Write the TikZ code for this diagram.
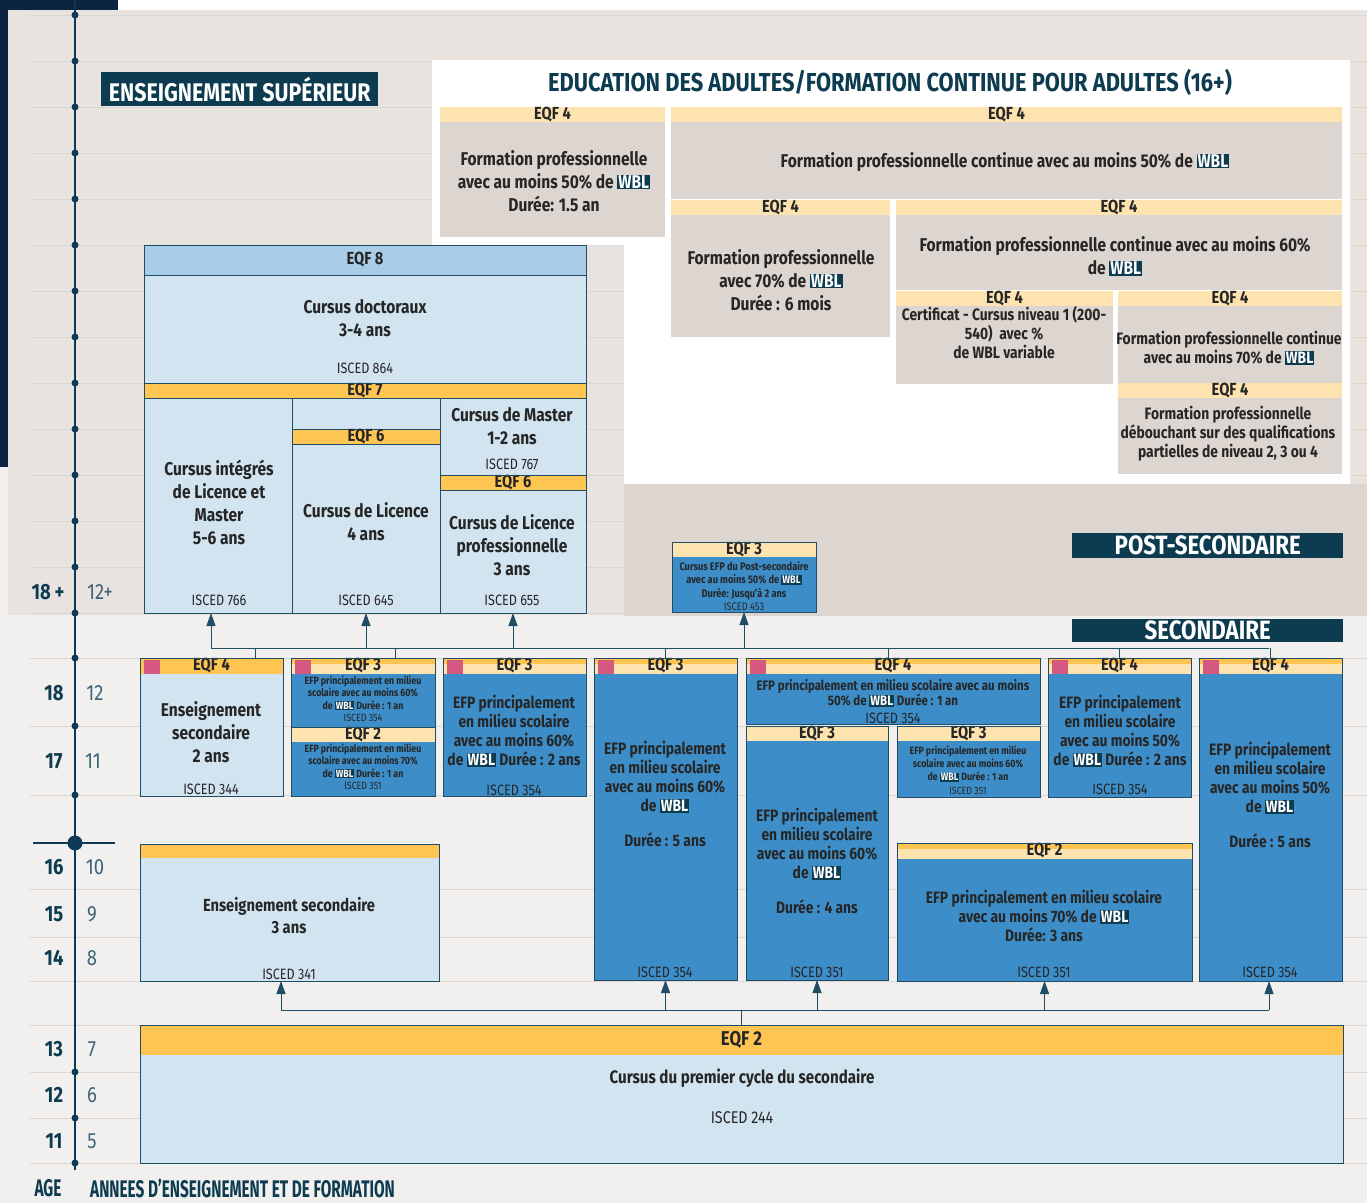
\documentclass[tikz,border=0pt]{standalone}
\usepackage{fontspec}
\setmainfont[FakeStretch=0.84]{Fira Sans}
\newfontfamily\narrowfont[FakeStretch=0.64]{Fira Sans}
\usepackage{xcolor}
\usetikzlibrary{arrows.meta, positioning}
\definecolor{EuNavy}{HTML}{0D3B4F}
\definecolor{EuAxis}{HTML}{0E3A56}
\definecolor{EuDeep}{HTML}{0B2440}
\definecolor{EuEdge}{HTML}{1F4D65}
\definecolor{EuOrange}{HTML}{FFC552}
\definecolor{EuCream}{HTML}{FDE3B0}
\definecolor{EuPale}{HTML}{D2E4F0}
\definecolor{EuSky}{HTML}{A9CDE6}
\definecolor{EuBlue}{HTML}{3C8DC8}
\definecolor{EuPink}{HTML}{D4587F}
\definecolor{EuSand}{HTML}{DDD5CF}
\definecolor{EuBeige}{HTML}{E8E3DF}
\definecolor{EuPaper}{HTML}{F2F0EE}
\definecolor{EuRule}{HTML}{DCD6D1}
\definecolor{EuInk}{HTML}{262626}
\definecolor{EuYear}{HTML}{3D6478}
\newcommand{\wbl}{{\setlength{\fboxsep}{1pt}\colorbox{EuNavy}{\textcolor{white}{WBL}}}}

\begin{document}
\begin{tikzpicture}[x=1pt, y=-1pt,
    box/.style={anchor=north west, inner sep=0pt, outer sep=0pt, draw=EuEdge, line width=0.8pt},
    pbox/.style={box, fill=EuPale},
    bbox/.style={box, fill=EuBlue},
    abox/.style={anchor=north west, inner sep=0pt, outer sep=0pt, fill=EuSand},
    hdr/.style={anchor=north west, inner sep=0pt, outer sep=0pt, minimum height=15pt, text=EuInk, font=\fontsize{17.5}{17.5}\selectfont\bfseries},
    hdro/.style={hdr, fill=EuOrange},
    hdrc/.style={hdr, fill=EuCream},
    hdrd/.style={hdr, fill=EuCream, path picture={\fill[EuOrange] (path picture bounding box.north west) rectangle ([yshift=-6pt]path picture bounding box.north east);}},
    hdrp/.style={hdr, fill=EuCream, path picture={\fill[EuOrange] (path picture bounding box.north west) rectangle ([yshift=-6pt]path picture bounding box.north east);
        \fill[EuPink] ([xshift=4pt,yshift=-2pt]path picture bounding box.north west) rectangle ([xshift=20pt,yshift=-16pt]path picture bounding box.north west);}},
    hdrop/.style={hdr, fill=EuOrange, path picture={\fill[EuPink] ([xshift=4pt,yshift=-2pt]path picture bounding box.north west) rectangle ([xshift=20pt,yshift=-16pt]path picture bounding box.north west);}},
    txt/.style={align=center, inner sep=0pt, text=EuInk, font=\fontsize{18.5}{23}\selectfont\bfseries},
    mtxt/.style={txt, font=\fontsize{16.5}{19}\selectfont\bfseries},
    stxt/.style={txt, font=\fontsize{10.5}{12.5}\selectfont\bfseries},
    isc/.style={inner sep=0pt, text=EuInk, font=\fontsize{15}{15}\selectfont},
    tag/.style={anchor=north west, inner sep=0pt, fill=EuNavy, text=white, font=\fontsize{26.5}{26.5}\selectfont\bfseries},
    age/.style={inner sep=0pt, text=EuNavy, font=\fontsize{22}{22}\selectfont\bfseries},
    year/.style={inner sep=0pt, text=EuYear, font=\fontsize{22}{22}\selectfont},
    bus/.style={draw=EuEdge, line width=1pt},
    arr/.style={bus, -{Triangle[width=9pt,length=13pt]}}]

    % background
    \useasboundingbox (0,0) rectangle (1367,1203);
    \fill[EuPaper] (0,0) rectangle (1367,1203);
    \fill[white] (118,0) rectangle (1367,10);
    \fill[EuBeige] (8,10) rectangle (1367,615);
    \fill[EuDeep] (0,0) rectangle (118,10);
    \fill[EuDeep] (0,0) rectangle (8,467);
    \foreach \y in {15,61,...,613,658,726,795,889,937,981,1025,1072,1118,1163}
        \draw[EuRule, line width=1pt] (30,\y) -- (1367,\y);
    \fill[white] (432,60) -- (1350,60) -- (1350,484) -- (624,484) -- (624,245) -- (432,245) -- cycle;
    \fill[EuSand] (624,484) rectangle (1367,616);

    % axis
    \draw[EuAxis, line width=1.6pt] (75,0) -- (75,1170);
    \foreach \y in {15,61,...,613,658,726,795,1072,1118,1163}
        \fill[EuAxis] (75,\y) circle (3.5pt);
    \draw[EuAxis, line width=2.5pt] (33,843) -- (115,843);
    \fill[EuAxis] (75,843) circle (7.5pt);

    \node[age] (g18p) at (48,592) {18\,+};
    \node[age] (g18) at (54,693) {18};
    \node[age] (g17) at (54,761) {17};
    \node[age] (g16) at (54,867) {16};
    \node[age] (g15) at (54,914) {15};
    \node[age] (g14) at (54,958) {14};
    \node[age] (g13) at (54,1049) {13};
    \node[age] (g12) at (54,1095) {12};
    \node[age] (g11) at (54,1141) {11};
    \node[year] (y12p) at (100,592) {12+};
    \node[year] (y12) at (95,693) {12};
    \node[year] (y11) at (93,761) {11};
    \node[year] (y10) at (95,867) {10};
    \node[year] (y9) at (92,914) {9};
    \node[year] (y8) at (92,958) {8};
    \node[year] (y7) at (92,1049) {7};
    \node[year] (y6) at (92,1095) {6};
    \node[year] (y5) at (92,1141) {5};
    \node[age, font=\fontsize{24}{24}\narrowfont\bfseries] (agelab) at (48,1188) {AGE};
    \node[age, anchor=west, font=\fontsize{24}{24}\narrowfont\bfseries] (yearlab) at (90,1188) {ANNEES D’ENSEIGNEMENT ET DE FORMATION};

    % titles
    \node[tag, minimum width=277pt, minimum height=34pt, font=\fontsize{25.5}{25.5}\selectfont\bfseries] (supt) at (101,72) {ENSEIGNEMENT SUPÉRIEUR};
    \node[inner sep=0pt, text=EuNavy, font=\fontsize{26}{26}\selectfont\bfseries] (adult) at (890,82)
        {EDUCATION DES ADULTES/FORMATION CONTINUE POUR ADULTES (16+)};
    \node[tag, minimum width=271pt, minimum height=25pt] (postt) at (1072,533) {POST-SECONDAIRE};
    \node[tag, minimum width=271pt, minimum height=23pt] (sect) at (1072,619) {SECONDAIRE};

    % adult education
    \node[abox, minimum width=225pt, minimum height=130pt] (a1) at (440,107) {};
    \node[hdrc, minimum width=225pt] (a1h) at (a1.north west) {EQF 4};
    \node[txt] (a1t) at (554,181) {Formation professionnelle\\avec au moins 50\% de \wbl\\Durée: 1.5 an};
    \node[abox, minimum width=671pt, minimum height=92pt] (a2) at (671,107) {};
    \node[hdrc, minimum width=671pt] (a2h) at (a2.north west) {EQF 4};
    \node[txt] (a2t) at (1005,162) {Formation professionnelle continue avec au moins 50\% de \wbl};
    \node[abox, minimum width=219pt, minimum height=137pt] (a3) at (671,200) {};
    \node[hdrc, minimum width=219pt] (a3h) at (a3.north west) {EQF 4};
    \node[txt] (a3t) at (781,280) {Formation professionnelle\\avec 70\% de \wbl\\Durée : 6 mois};
    \node[abox, minimum width=446pt, minimum height=90pt] (a4) at (896,200) {};
    \node[hdrc, minimum width=446pt] (a4h) at (a4.north west) {EQF 4};
    \node[txt] (a4t) at (1115,256) {Formation professionnelle continue avec au moins 60\%\\de \wbl};
    \node[abox, minimum width=217pt, minimum height=93pt] (a5) at (896,291) {};
    \node[hdrc, minimum width=217pt] (a5h) at (a5.north west) {EQF 4};
    \node[mtxt] (a5t) at (1004,333) {Certificat - Cursus niveau 1 (200-\\540)~ avec \%\\de WBL variable};
    \node[abox, minimum width=224pt, minimum height=92pt] (a6) at (1118,291) {};
    \node[hdrc, minimum width=224pt] (a6h) at (a6.north west) {EQF 4};
    \node[mtxt] (a6t) at (1229,348) {Formation professionnelle continue\\avec au moins 70\% de \wbl};
    \node[abox, minimum width=224pt, minimum height=91pt] (a7) at (1118,383) {};
    \node[hdrc, minimum width=224pt] (a7h) at (a7.north west) {EQF 4};
    \node[mtxt] (a7t) at (1228,434) {Formation professionnelle\\débouchant sur des qualifications\\partielles de niveau 2, 3 ou 4};

    % higher education
    \node[box, fill=EuSky, minimum width=442pt, minimum height=30pt, font=\fontsize{17.5}{17.5}\selectfont\bfseries, text=EuInk] (eqf8) at (144,245) {EQF 8};
    \node[pbox, minimum width=442pt, minimum height=108pt] (doc) at (144,275) {};
    \node[txt] (doct) at (365,318) {Cursus doctoraux\\3-4 ans};
    \node[isc] (doci) at (365,368) {ISCED 864};
    \node[hdro, draw=EuEdge, line width=0.8pt, minimum width=442pt] (eqf7) at (144,383) {EQF 7};
    \node[pbox, minimum width=148pt, minimum height=215pt] (col1) at (144,398) {};
    \node[txt] (col1t) at (219,502) {Cursus intégrés\\de Licence et\\Master\\5-6 ans};
    \node[isc] (col1i) at (219,600) {ISCED 766};
    \node[pbox, minimum width=148pt, minimum height=215pt] (col2) at (292,398) {};
    \node[hdro, draw=EuEdge, line width=0.8pt, minimum width=148pt] (eqf6a) at (292,429) {EQF 6};
    \node[txt] (col2t) at (366,522) {Cursus de Licence\\4 ans};
    \node[isc] (col2i) at (366,600) {ISCED 645};
    \node[pbox, minimum width=146pt, minimum height=77pt] (mst) at (440,398) {};
    \node[txt] (mstt) at (512,426) {Cursus de Master\\1-2 ans};
    \node[isc] (msti) at (512,464) {ISCED 767};
    \node[pbox, minimum width=146pt, minimum height=138pt] (lpro) at (440,475) {};
    \node[hdro, draw=EuEdge, line width=0.8pt, minimum width=146pt] (eqf6b) at (lpro.north west) {EQF 6};
    \node[txt] (lprot) at (512,545) {Cursus de Licence\\professionnelle\\3 ans};
    \node[isc] (lproi) at (512,600) {ISCED 655};

    % post-secondary
    \node[bbox, minimum width=144pt, minimum height=70pt] (post) at (672,542) {};
    \node[hdrc, minimum width=144pt] (posth) at (post.north west) {EQF 3};
    \node[stxt, font=\fontsize{11}{13.3}\selectfont\bfseries] (postt2) at (744,586)
        {Cursus EFP du Post-secondaire\\avec au moins 50\% de \wbl\\Durée: Jusqu'à 2 ans\\{\mdseries ISCED 453}};

    % upper secondary
    \node[pbox, minimum width=143pt, minimum height=138pt] (s1) at (140,658) {};
    \node[hdrop, minimum width=143pt, minimum height=16pt] (s1h) at (s1.north west) {EQF 4};
    \node[txt] (s1t) at (211,732) {Enseignement\\secondaire\\2 ans};
    \node[isc] (s1i) at (211,789) {ISCED 344};

    \node[bbox, minimum width=144pt, minimum height=69pt] (s2a) at (291,658) {};
    \node[hdrp, minimum width=144pt, minimum height=16pt] (s2ah) at (s2a.north west) {EQF 3};
    \node[stxt] (s2at) at (363,699) {EFP principalement en milieu\\scolaire avec au moins 60\%\\de \wbl{} Durée : 1 an\\{\mdseries ISCED 354}};
    \node[bbox, minimum width=144pt, minimum height=69pt] (s2b) at (291,727) {};
    \node[hdrc, minimum width=144pt] (s2bh) at (s2b.north west) {EQF 2};
    \node[stxt] (s2bt) at (363,767) {EFP principalement en milieu\\scolaire avec au moins 70\%\\de \wbl{} Durée : 1 an\\{\mdseries ISCED 351}};

    \node[bbox, minimum width=143pt, minimum height=138pt] (s3) at (443,658) {};
    \node[hdrp, minimum width=143pt, minimum height=16pt] (s3h) at (s3.north west) {EQF 3};
    \node[mtxt] (s3t) at (514,731) {EFP principalement\\en milieu scolaire\\avec au moins 60\%\\de \wbl{} Durée : 2 ans};
    \node[isc] (s3i) at (514,790) {ISCED 354};

    \node[bbox, minimum width=143pt, minimum height=322pt] (s4) at (594,658) {};
    \node[hdrp, minimum width=143pt, minimum height=16pt] (s4h) at (s4.north west) {EQF 3};
    \node[mtxt] (s4t) at (665,777) {EFP principalement\\en milieu scolaire\\avec au moins 60\%\\de \wbl};
    \node[mtxt] (s4d) at (665,840) {Durée : 5 ans};
    \node[isc] (s4i) at (665,972) {ISCED 354};

    \node[bbox, minimum width=294pt, minimum height=66pt] (s5) at (746,658) {};
    \node[hdrp, minimum width=294pt, minimum height=16pt] (s5h) at (s5.north west) {EQF 4};
    \node[txt, font=\fontsize{13.7}{14}\selectfont\bfseries] (s5t) at (893,693) {EFP principalement en milieu scolaire avec au moins\\50\% de \wbl{} Durée : 1 an};
    \node[isc] (s5i) at (893,718) {ISCED 354};

    \node[bbox, minimum width=142pt, minimum height=254pt] (s6) at (746,726) {};
    \node[hdrc, minimum width=142pt] (s6h) at (s6.north west) {EQF 3};
    \node[mtxt] (s6t) at (817,844) {EFP principalement\\en milieu scolaire\\avec au moins 60\%\\de \wbl};
    \node[mtxt] (s6d) at (817,907) {Durée : 4 ans};
    \node[isc] (s6i) at (817,972) {ISCED 351};

    \node[bbox, minimum width=143pt, minimum height=71pt] (s7) at (897,726) {};
    \node[hdrc, minimum width=143pt] (s7h) at (s7.north west) {EQF 3};
    \node[stxt, font=\fontsize{10.5}{13.3}\selectfont\bfseries] (s7t) at (968,770) {EFP principalement en milieu\\scolaire avec au moins 60\%\\de \wbl{} Durée : 1 an\\{\mdseries ISCED 351}};

    \node[bbox, minimum width=143pt, minimum height=139pt] (s8) at (1048,658) {};
    \node[hdrp, minimum width=143pt, minimum height=16pt] (s8h) at (s8.north west) {EQF 4};
    \node[mtxt] (s8t) at (1120,731) {EFP principalement\\en milieu scolaire\\avec au moins 50\%\\de \wbl{} Durée : 2 ans};
    \node[isc] (s8i) at (1120,789) {ISCED 354};

    \node[bbox, minimum width=143pt, minimum height=323pt] (s9) at (1199,658) {};
    \node[hdrp, minimum width=143pt, minimum height=16pt] (s9h) at (s9.north west) {EQF 4};
    \node[mtxt] (s9t) at (1270,778) {EFP principalement\\en milieu scolaire\\avec au moins 50\%\\de \wbl};
    \node[mtxt] (s9d) at (1270,841) {Durée : 5 ans};
    \node[isc] (s9i) at (1270,972) {ISCED 354};

    \node[bbox, minimum width=295pt, minimum height=138pt] (s10) at (897,843) {};
    \node[hdrd, minimum width=295pt, minimum height=16pt] (s10h) at (s10.north west) {EQF 2};
    \node[mtxt] (s10t) at (1044,916) {EFP principalement en milieu scolaire\\avec au moins 70\% de \wbl\\Durée: 3 ans};
    \node[isc] (s10i) at (1044,972) {ISCED 351};

    \node[pbox, minimum width=299pt, minimum height=137pt] (l1) at (140,844) {};
    \node[hdro, minimum width=299pt, minimum height=14pt] (l1h) at (l1.north west) {};
    \node[txt, font=\fontsize{17.5}{22}\selectfont\bfseries] (l1t) at (289,916) {Enseignement secondaire\\3 ans};
    \node[isc] (l1i) at (289,974) {ISCED 341};

    % lower secondary
    \node[pbox, minimum width=1203pt, minimum height=138pt] (low) at (140,1025) {};
    \node[hdro, minimum width=1203pt, minimum height=30pt, font=\fontsize{20}{20}\selectfont\bfseries] (lowh) at (low.north west) {EQF 2};
    \node[txt, font=\fontsize{18}{18}\selectfont\bfseries] (lowt) at (742,1078) {Cursus du premier cycle du secondaire};
    \node[isc, font=\fontsize{17}{17}\selectfont] (lowi) at (742,1118) {ISCED 244};

    % borders on top
    \foreach \n in {eqf8,doc,col1,col2,mst,lpro,post,s1,s2a,s2b,s3,s4,s5,s6,s7,s8,s9,s10,l1,low}
        \draw[EuEdge, line width=0.8pt] (\n.north west) rectangle (\n.south east);

    % paths up to higher education
    \coordinate (upL) at (211,648);
    \coordinate (upR) at (1269,648);
    \draw[bus] (upL) -- (upR);
    \draw[arr] (upL) -- (upL |- col1.south);
    \draw[arr] (col2.south |- upL) -- (col2.south);
    \draw[arr] (lpro.south |- upL) -- (lpro.south);
    \draw[arr] (post.south |- upL) -- (post.south);
    \draw[bus] ([xshift=44pt]s1.north) -- ([xshift=44pt]s1.north |- upL);
    \draw[bus] ([xshift=32pt]s2a.north) -- ([xshift=32pt]s2a.north |- upL);
    \draw[bus] (s4.north) -- (s4.north |- upL);
    \draw[bus] ([xshift=-5pt]s5.north) -- ([xshift=-5pt]s5.north |- upL);
    \draw[bus] (s8.north) -- (s8.north |- upL);
    \draw[bus] (s9.north) -- (s9.north |- upL);

    % paths up from lower secondary
    \coordinate (loL) at (281,1010);
    \coordinate (loR) at (1269,1010);
    \draw[bus] (loL) -- (loR);
    \draw[bus] (low.north) -- (low.north |- loL);
    \draw[arr] (loL) -- (loL |- l1.south);
    \draw[arr] (s4.south |- loL) -- (s4.south);
    \draw[arr] (s6.south |- loL) -- (s6.south);
    \draw[arr] (s10.south |- loL) -- (s10.south);
    \draw[arr] (loR) -- (loR |- s9.south);

\end{tikzpicture}
\end{document}
